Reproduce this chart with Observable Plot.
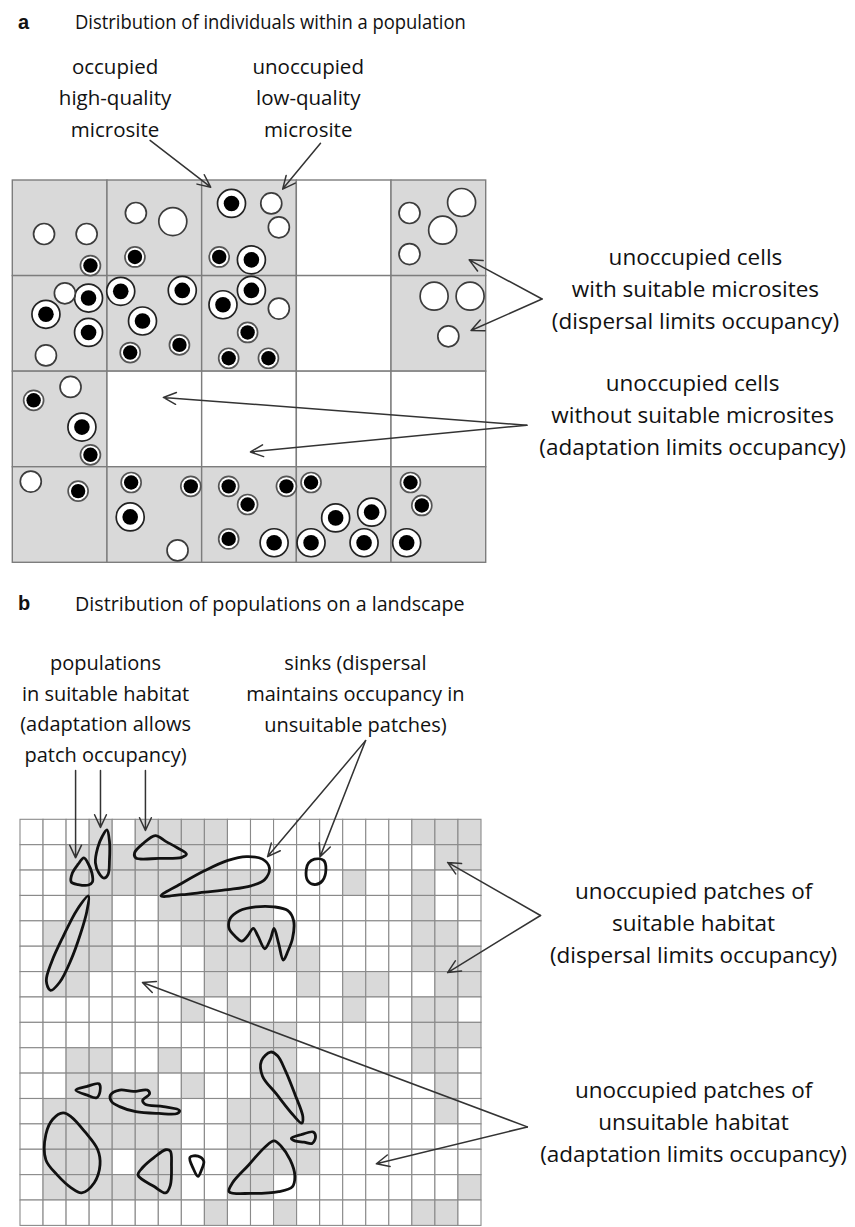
<!DOCTYPE html>
<html><head><meta charset="utf-8">
<script src="https://cdn.jsdelivr.net/npm/d3@7"></script>
<script src="https://cdn.jsdelivr.net/npm/@observablehq/plot@0.6"></script>
<style>
body{margin:0;background:#fff;width:855px;height:1227px;overflow:hidden;position:relative;font-family:"Open Sans",sans-serif;color:#111;}
.hdr{position:absolute;left:0;width:855px;white-space:nowrap;}
.hdr .lab{position:absolute;left:18px;font-family:"Liberation Sans",Arial,sans-serif;font-weight:bold;font-size:20px;}
.hdr .ttl{position:absolute;left:75px;transform-origin:0 50%;}
#pa,#pb{position:absolute;left:0;}
</style></head><body>
<div id="pa" style="top:44px"></div>
<div id="pb" style="top:620px"></div>
<div id="ha" class="hdr" style="top:2px;height:40px;line-height:40px"><span class="lab">a</span><span class="ttl" style="font-size:20px;transform:scaleX(0.92)">Distribution of individuals within a population</span></div>
<div id="hb" class="hdr" style="top:583px;height:40px;line-height:40px"><span class="lab">b</span><span class="ttl" style="font-size:20.5px;transform:scaleX(0.96)">Distribution of populations on a landscape</span></div>
<script>
// ---------- Panel a data ----------
// cells of the population: "#" = contains suitable microsites (grey), "." = none
const cellsA = ["###.#", "###.#", "#....", "#####"];
// microsites: [col, row, kind]  E = small empty, L = large empty, s = small occupied, O = large occupied
const microsites = [
  [0.33,0.56,"E"],[0.78,0.56,"E"],[0.82,0.89,"s"],
  [1.30,0.34,"E"],[1.69,0.43,"L"],[1.29,0.80,"s"],
  [2.31,0.24,"O"],[2.73,0.24,"E"],[2.81,0.49,"E"],[2.18,0.80,"s"],[2.52,0.83,"O"],
  [4.19,0.34,"E"],[4.74,0.23,"L"],[4.54,0.52,"L"],[4.19,0.77,"E"],
  [0.55,1.18,"E"],[0.80,1.23,"O"],[0.35,1.40,"O"],[0.80,1.59,"O"],[0.35,1.83,"E"],
  [1.14,1.16,"O"],[1.79,1.15,"O"],[1.37,1.47,"O"],[1.24,1.80,"s"],[1.76,1.72,"s"],
  [2.22,1.30,"O"],[2.52,1.15,"O"],[2.81,1.34,"E"],[2.48,1.59,"s"],[2.28,1.86,"s"],[2.70,1.86,"s"],
  [4.45,1.21,"L"],[4.83,1.21,"L"],[4.60,1.63,"E"],
  [0.61,2.16,"E"],[0.22,2.30,"s"],[0.73,2.58,"O"],[0.82,2.87,"s"],
  [0.19,3.15,"E"],[0.69,3.25,"s"],
  [1.25,3.16,"s"],[1.88,3.20,"s"],[1.24,3.52,"O"],[1.74,3.87,"E"],
  [2.28,3.20,"s"],[2.89,3.20,"s"],[2.48,3.39,"s"],[2.28,3.75,"s"],[2.76,3.79,"O"],
  [3.15,3.16,"s"],[3.41,3.53,"O"],[3.79,3.47,"O"],[3.15,3.79,"O"],[3.71,3.79,"O"],
  [4.20,3.16,"s"],[4.32,3.40,"s"],[4.16,3.79,"O"]
];
const labelsTopA = [
  {x:1.08, y:-0.89, text:"occupied\nhigh-quality\nmicrosite"},
  {x:3.12, y:-0.89, text:"unoccupied\nlow-quality\nmicrosite"}
];
const labelsSideA = [
  {x:7.21, y:1.11, text:"unoccupied cells\nwith suitable microsites\n(dispersal limits occupancy)"},
  {x:7.18, y:2.43, text:"unoccupied cells\nwithout suitable microsites\n(adaptation limits occupancy)"}
];
const arrowsA = [
  {x1:1.45, y1:-0.42, x2:2.09, y2:0.07},
  {x1:3.25, y1:-0.39, x2:2.85, y2:0.09},
  {x1:5.59, y1:1.24, x2:4.82, y2:0.83},
  {x1:5.59, y1:1.24, x2:4.84, y2:1.57},
  {x1:5.43, y1:2.56, x2:1.59, y2:2.27},
  {x1:5.43, y1:2.56, x2:2.51, y2:2.84}
];

// ---------- Panel b data ----------
// landscape patches: "#" = suitable habitat (grey), "." = unsuitable
const cellsB = [
  "...#.####........###",
  "..#######.........##",
  "..#########...#..#..",
  "..##..#####......#..",
  ".###...#####.....##.",
  ".###....#####....###",
  ".##.....#...#.##..##",
  ".......#.#....#..##.",
  "..........##.....###",
  "..##..#...##.....##.",
  "..####.#..###.....#.",
  ".######..####.....#.",
  ".######..####.......",
  ".###.##..####.......",
  ".######..##........#",
  "........#..#.....##."
];
// population outlines, in patch units [col, row]
const populations = [
  [[2.75,1.5],[2.95,1.75],[3.1,2.1],[3.12,2.45],[2.95,2.57],[2.5,2.55],[2.2,2.45],[2.25,2.1],[2.5,1.75]],
  [[3.75,0.4],[3.86,0.85],[3.86,1.6],[3.8,2.15],[3.62,2.3],[3.4,2.1],[3.25,1.7],[3.35,1.1],[3.55,0.65]],
  [[5.85,0.62],[6.3,0.85],[6.8,1.1],[7.2,1.35],[7.0,1.48],[6.0,1.52],[5.0,1.5],[4.95,1.3],[5.3,0.95]],
  [[6.1,3.0],[7.0,2.5],[8.0,2.0],[9.0,1.6],[9.8,1.45],[10.5,1.55],[10.8,1.9],[10.6,2.35],[10.0,2.6],[9.0,2.75],[8.0,2.85],[7.0,2.95]],
  [[12.75,1.55],[13.15,1.6],[13.25,1.95],[13.1,2.4],[12.75,2.55],[12.45,2.38],[12.4,1.95],[12.5,1.7]],
  [[9.1,3.88],[9.5,3.58],[10.2,3.43],[11.0,3.43],[11.6,3.58],[11.85,3.98],[11.8,4.68],[11.6,5.18],[11.4,5.53],[11.2,4.88],[11.0,4.28],[10.85,4.68],[10.6,5.08],[10.3,4.58],[10.1,4.28],[9.85,4.58],[9.6,4.78],[9.3,4.58],[9.05,4.28]],
  [[2.95,3.0],[2.88,3.6],[2.6,4.5],[2.2,5.5],[1.7,6.4],[1.3,6.72],[1.12,6.35],[1.35,5.6],[1.85,4.6],[2.45,3.55]],
  [[10.85,9.15],[11.15,9.3],[11.5,9.9],[11.9,10.8],[12.25,11.7],[12.2,11.95],[11.8,11.6],[11.1,10.8],[10.5,10.1],[10.45,9.5]],
  [[2.4,10.65],[2.9,10.5],[3.4,10.4],[3.45,10.7],[3.3,10.95],[2.9,10.85]],
  [[3.9,10.85],[4.3,10.65],[4.9,10.7],[5.5,10.65],[5.6,10.8],[5.3,11.05],[5.4,11.2],[6.2,11.3],[6.9,11.45],[6.8,11.57],[6.0,11.57],[5.0,11.5],[4.3,11.3],[3.95,11.1]],
  [[1.85,11.55],[2.2,11.7],[2.8,12.3],[3.35,13.0],[3.45,13.6],[3.2,14.3],[2.65,14.7],[2.2,14.5],[1.6,14.0],[1.1,13.4],[1.1,12.4],[1.4,11.8]],
  [[6.3,13.0],[6.5,13.05],[6.55,13.6],[6.5,14.4],[6.3,14.7],[5.8,14.45],[5.1,14.0],[5.3,13.7],[5.8,13.3]],
  [[7.35,13.3],[7.7,13.25],[7.95,13.45],[7.85,13.8],[7.7,14.05],[7.5,13.75]],
  [[11.0,12.65],[11.3,12.85],[11.7,13.4],[11.9,14.0],[11.8,14.45],[11.2,14.65],[10.0,14.72],[9.05,14.65],[9.2,14.3],[9.9,13.6],[10.6,12.9]],
  [[11.75,12.55],[12.2,12.4],[12.7,12.3],[12.8,12.5],[12.65,12.75],[12.3,12.7],[11.9,12.65]]
];
const labelsTopB = [
  {x:3.69, y:-4.48, text:"populations\nin suitable habitat\n(adaptation allows\npatch occupancy)"},
  {x:14.53, y:-5.06, text:"sinks (dispersal\nmaintains occupancy in\nunsuitable patches)"}
];
const labelsSideB = [
  {x:29.2, y:3.97, text:"unoccupied patches of\nsuitable habitat\n(dispersal limits occupancy)"},
  {x:29.2, y:11.82, text:"unoccupied patches of\nunsuitable habitat\n(adaptation limits occupancy)"}
];
const arrowsB = [
  {x1:2.39, y1:-1.94, x2:2.39, y2:1.5},
  {x1:3.47, y1:-1.94, x2:3.47, y2:0.3},
  {x1:5.42, y1:-1.94, x2:5.42, y2:0.42},
  {x1:14.97, y1:-3.12, x2:10.72, y2:1.45},
  {x1:14.97, y1:-3.12, x2:13.0, y2:1.45},
  {x1:22.56, y1:3.77, x2:18.53, y2:1.68},
  {x1:22.56, y1:3.77, x2:18.53, y2:6.02},
  {x1:21.99, y1:12.1, x2:5.29, y2:6.41},
  {x1:21.99, y1:12.1, x2:15.44, y2:13.55}
];

// ---------- helpers & styles ----------
const GREY = "#d9d9d9";
const FONT = "Open Sans";
function toRects(rows){
  const out = [];
  rows.forEach((s, r) => [...s].forEach((ch, c) => out.push({x1:c, x2:c+1, y1:r, y2:r+1, suitable: ch === "#"})));
  return out;
}
const outerR = {E:10.5, L:14, s:10, O:14};
const innerR = {s:7.2, O:7.8};
const ringColor = {E:"#3c3c3c", L:"#3c3c3c", s:"#555555", O:"#222222"};
const textOpts = (size, lh) => ({x:"x", y:"y", text:"text", fontSize:size, fontFamily:FONT, lineHeight:lh, fill:"#111", textAnchor:"middle"});
const arrowOpts = {x1:"x1", y1:"y1", x2:"x2", y2:"y2", stroke:"#333", strokeWidth:1.5, headLength:14, headAngle:50};

const plotA = Plot.plot({
  width:855, height:560, margin:0,
  style:{fontFamily:FONT, background:"transparent", overflow:"visible"},
  x:{domain:[0,5], range:[12.3,485.7], axis:null},
  y:{domain:[0,4], range:[136,518.3], axis:null},
  r:{type:"identity"}, color:{type:"identity"},
  marks:[
    Plot.rect(toRects(cellsA), {x1:"x1", x2:"x2", y1:"y1", y2:"y2", fill:d => d.suitable ? GREY : "#ffffff", stroke:"#7d7d7d", strokeWidth:1.4}),
    Plot.arrow(arrowsA, arrowOpts),
    Plot.dot(microsites, {x:d => d[0], y:d => d[1], r:d => outerR[d[2]], fill:"#ffffff", stroke:d => ringColor[d[2]], strokeWidth:1.7}),
    Plot.dot(microsites.filter(d => d[2] === "s" || d[2] === "O"), {x:d => d[0], y:d => d[1], r:d => innerR[d[2]], fill:"#000000"}),
    Plot.text(labelsTopA, textOpts(20.5, 1.52)),
    Plot.text(labelsSideA, textOpts(22.5, 1.43))
  ]
});
document.getElementById("pa").appendChild(plotA);

const plotB = Plot.plot({
  width:855, height:607, margin:0,
  style:{fontFamily:FONT, background:"transparent", overflow:"visible"},
  x:{domain:[0,20], range:[20,481], axis:null},
  y:{domain:[0,16], range:[199.3,605.4], axis:null},
  color:{type:"identity"},
  marks:[
    Plot.rect(toRects(cellsB), {x1:"x1", x2:"x2", y1:"y1", y2:"y2", fill:d => d.suitable ? GREY : "#ffffff", stroke:"#8a8a8a", strokeWidth:1.1}),
    Plot.line(populations.flatMap((pts, i) => pts.map(([x, y]) => ({id:i, x, y}))), {x:"x", y:"y", z:"id", curve:"catmull-rom-closed", stroke:"#111", strokeWidth:2.8}),
    Plot.arrow(arrowsB, arrowOpts),
    Plot.text(labelsTopB, textOpts(20, 1.55)),
    Plot.text(labelsSideB, textOpts(22.5, 1.43))
  ]
});
document.getElementById("pb").appendChild(plotB);
</script>
</body></html>
